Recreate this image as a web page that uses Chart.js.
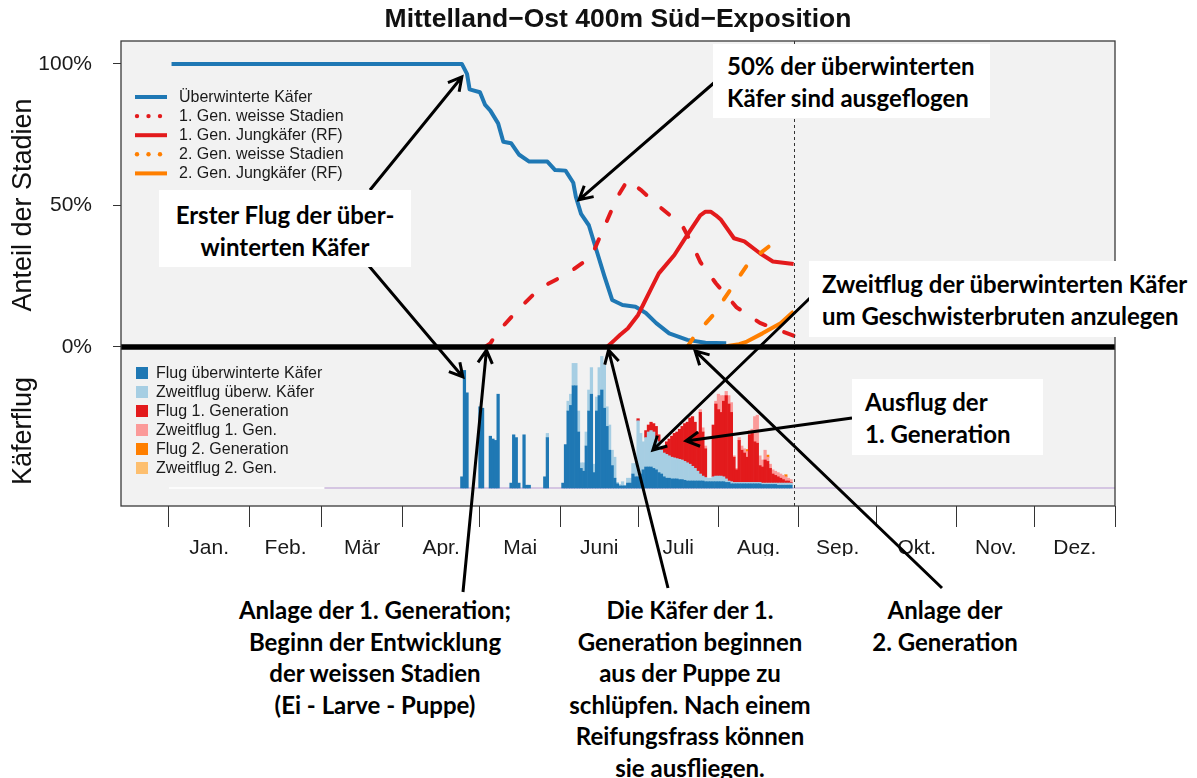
<!DOCTYPE html>
<html>
<head>
<meta charset="utf-8">
<script src="https://cdn.jsdelivr.net/npm/chart.js@4.4.0/dist/chart.umd.min.js"></script>
<style>
  html, body { margin: 0; padding: 0; background: #fff; }
  #wrap { position: relative; width: 1197px; height: 778px; overflow: hidden; }
  #chart { position: absolute; left: 0; top: 0; }
  .note {
    position: absolute; box-sizing: border-box; background: #fff; color: #000;
    font-family: Lato, "Open Sans", sans-serif; font-weight: 700; font-size: 24px;
    line-height: 31.5px; white-space: nowrap;
  }
</style>
</head>
<body>
<div id="wrap">
  <canvas id="chart" width="1197" height="778"></canvas>
</div>
<script>
const chartTitle = 'Mittelland−Ost 400m Süd−Exposition';
const monthStarts = [0, 31, 59, 90, 120, 151, 181, 212, 243, 273, 304, 334, 365];
const monthLabels = ['Jan.', 'Feb.', 'Mär', 'Apr.', 'Mai', 'Juni', 'Juli', 'Aug.', 'Sep.', 'Okt.', 'Nov.', 'Dez.'];
const percentTicks = [0, 50, 100];
const cutoffDay = 241;      // dotted line, last simulated day
const baseSplitDay = 60;    // baseline is white before, lilac after

// upper panel, share of stages in % (day of year -> value)
const uwDays = [1, 113, 115, 116, 120, 122, 124, 127, 129, 132, 135, 139, 146, 149, 153, 156, 157, 159, 162, 165, 168, 171, 175, 180, 184, 188, 193, 200, 207, 215];
const uwValues = [100, 100, 96.5, 91, 90, 85.5, 83.5, 79, 72.5, 72, 68, 65.5, 65.5, 62.5, 62.3, 58, 53, 47, 43, 34, 25, 16.6, 14.8, 14.2, 12, 8.4, 4.8, 2.5, 1.5, 1.3];
const weiss1Days = [122, 124, 127, 134, 143, 154, 163, 168, 173, 177, 182, 190, 198, 202, 205, 211, 219, 228, 235, 241];
const weiss1Values = [0, 1.3, 5.4, 12.5, 20.7, 26, 32, 42.5, 53, 59, 55.5, 49, 43, 36, 30, 22.5, 14, 8.5, 6, 4];
const jung1Days = [169, 172, 174, 177, 181, 183, 186, 189, 195, 200, 205, 207, 209, 211, 213, 218, 222, 228, 233, 241];
const jung1Values = [0, 2.5, 4.2, 6.5, 11.3, 15, 20.5, 26, 32.5, 39.6, 46.5, 47.8, 47.8, 46.5, 44.9, 38.4, 37.3, 33.1, 30.2, 29.3];
const weiss2Days = [200, 203, 210, 217, 224, 234, 237];
const weiss2Values = [0, 4.2, 11.3, 20.7, 30.2, 37.3, 39];
const jung2Days = [213, 220, 223, 229, 236, 241];
const jung2Values = [0, 1, 1.9, 4.8, 8.4, 12.5];

// lower panel, daily flight (relative units), each series starts at its own day
const flugUwStart = 113;
const flugUw = [
  8, 84, 68, 0, 0, 0, 0, 58, 57, 0,
  0, 37, 35, 34, 67, 0, 0, 0, 0, 3.5,
  38, 36, 3.5, 0, 38, 2, 2, 0, 0, 0,
  0, 0, 8, 36, 0, 0, 0, 0, 0, 3.5,
  31, 55, 59, 73, 73, 40, 14, 12, 30, 55,
  67, 11, 55, 66, 70, 57, 44, 27, 16, 7,
  3, 1.5, 1.5, 1.5, 3.5, 3.5, 10, 8, 8, 10,
  13, 15, 15, 15, 14, 13, 11, 10, 8, 7,
  7, 6.5, 6.5, 6.5, 6, 6, 5.5, 5, 5, 5,
  5, 5, 5, 5, 4.5, 4.5, 4.5, 4.5, 4.5, 4.5,
  4.5, 4.5, 4, 4, 3, 3, 3, 3, 3, 3,
  3, 3, 3, 3, 3, 3, 2.5, 2.5, 2.5, 2.5,
  2.5, 2.5, 2, 2, 2, 2, 2, 2
];
const zweitUwStart = 146;
const zweitUw = [
  3, 0, 0, 0, 0, 0, 0,
  0, 7, 8, 16, 16, 15, 4, 6, 10, 15,
  19, 6, 10, 20, 24, 31, 14, 18, 11, 15,
  1, 1, 3, 0.5, 3.5, 3.5, 7.5, 9.5, 40, 29,
  20, 21, 25, 26, 26, 23, 22, 17, 17, 17,
  16, 15.5, 15, 14.5, 14.5, 14, 13.5, 13, 12, 10.5,
  9, 7, 5, 3.5, 3, 2.5, 2.5, 3.5, 4, 4,
  4, 3.5, 2.5, 1, 1.5, 1, 1, 1, 1, 1,
  1, 1, 1, 1, 1, 1, 1, 1, 1, 1,
  1, 1, 1.5, 1.5, 1.5, 1.5, 1.5, 1.5
];
const flug1Start = 181;
const flug1 = [
  1.5, 0,
  0, 5, 5, 6, 6, 8, 5, 2, 4, 9,
  12, 15, 17.5, 19, 21.5, 24, 27, 29, 33, 35.5,
  33, 28, 44, 31.5, 20.5, 0, 0, 37, 51.5, 47.5,
  45.5, 54, 59.5, 55, 49.5, 18, 9, 30, 23, 21,
  18, 34, 35, 29, 28, 12, 11.5, 16.5, 15.5, 10.5,
  6.5, 5.5, 4.5, 3.5, 2.5, 1.5, 1.5, 0.5
];
const zweit1Start = 205;
const zweit1 = [
  2, 3, 2, 0, 0, 0, 2, 11,
  12, 4, 3, 6, 7, 1, 1, 2, 3, 3,
  4, 3, 3, 18, 20, 7, 5, 7, 3, 3,
  3, 3, 3, 3, 3, 3, 2, 2
];
const flug2Start = 223;
const flug2 = [1.5, 0, 0, 0, 0, 0, 0, 0, 1.5, 0, 0, 0, 0, 0, 0, 1.5];
const zweit2Start = 223;
const zweit2 = [];

const blue = '#1f78b4', red = '#e31a1c', orange = '#ff7f00';

function curve(days, values) {
  return days.map((d, i) => ({ x: d, y: values[i] }));
}
function daily(start, values) {
  const pts = [];
  values.forEach((v, i) => { if (v > 0) pts.push({ x: start + i, y: v }); });
  return pts;
}

const lineBase = { type: 'line', yAxisID: 'y', pointRadius: 0, borderWidth: 4, tension: 0, fill: false, borderJoinStyle: 'round' };
const barBase = { type: 'bar', yAxisID: 'yb', order: 10, borderWidth: 0, barPercentage: 1, categoryPercentage: 1 };

// annotation boxes (pixels) and arrows: tail in pixels, tip in data units
const notes = [
  { lines: ['50% der überwinterten', 'Käfer sind ausgeflogen'], left: 713, top: 44, width: 277, height: 74, pad: '6px 0 0 14px', align: 'left' },
  { lines: ['Erster Flug der über-', 'winterten Käfer'], left: 159, top: 190, width: 252, height: 77, pad: '9px 0 0 0', align: 'center' },
  { lines: ['Zweitflug der überwinterten Käfer', 'um Geschwisterbruten anzulegen'], left: 809, top: 261, width: 388, height: 76, pad: '7px 0 0 13px', align: 'left' },
  { lines: ['Ausflug der', '1. Generation'], left: 852, top: 379, width: 191, height: 76, pad: '7px 0 0 13px', align: 'left' },
  { lines: ['Anlage der 1. Generation;', 'Beginn der Entwicklung', 'der weissen Stadien', '(Ei - Larve - Puppe)'], left: 215, top: 594, width: 320, height: 130, pad: '0', align: 'center' },
  { lines: ['Die Käfer der 1.', 'Generation beginnen', 'aus der Puppe zu', 'schlüpfen. Nach einem', 'Reifungsfrass können', 'sie ausfliegen.'], left: 530, top: 594, width: 320, height: 190, pad: '0', align: 'center' },
  { lines: ['Anlage der', '2. Generation'], left: 845, top: 594, width: 200, height: 66, pad: '0', align: 'center' }
];
const arrows = [
  { from: [370, 190], to: [113, 95.4] },
  { from: [369, 266], to: [113.4, -10.6] },
  { from: [715, 82], to: [158.2, 52] },
  { from: [463, 592], to: [122.5, -1.1] },
  { from: [668, 588], to: [169.6, -1.1] },
  { from: [942, 588], to: [203, -1.4] },
  { from: [810, 298], to: [186.7, -36.4] },
  { from: [852, 418], to: [199.5, -33.2] }
];

const wrap = document.getElementById('wrap');
notes.forEach(n => {
  const d = document.createElement('div');
  d.className = 'note';
  Object.assign(d.style, { left: n.left + 'px', top: n.top + 'px', width: n.width + 'px', height: n.height + 'px', padding: n.pad, textAlign: n.align });
  n.lines.forEach((t, i) => {
    if (i) d.appendChild(document.createElement('br'));
    d.appendChild(document.createTextNode(t));
  });
  wrap.appendChild(d);
});

function seg(ctx, x1, y1, x2, y2) {
  ctx.beginPath(); ctx.moveTo(x1, y1); ctx.lineTo(x2, y2); ctx.stroke();
}
function arrow(ctx, x1, y1, x2, y2) {
  const a = Math.atan2(y2 - y1, x2 - x1), h = 15, w = 0.5;
  ctx.beginPath();
  ctx.moveTo(x1, y1); ctx.lineTo(x2, y2);
  ctx.moveTo(x2 - h * Math.cos(a - w), y2 - h * Math.sin(a - w));
  ctx.lineTo(x2, y2);
  ctx.lineTo(x2 - h * Math.cos(a + w), y2 - h * Math.sin(a + w));
  ctx.stroke();
}

const FONT = '"Liberation Sans", Arial, sans-serif';
Chart.defaults.font.family = FONT;

const frame = {
  id: 'frame',
  beforeDraw(chart) {
    const { ctx, chartArea: a } = chart;
    ctx.save();
    ctx.fillStyle = '#f2f2f2';
    ctx.fillRect(a.left, a.top, a.right - a.left, a.bottom - a.top);
    ctx.restore();
  },
  beforeDatasetsDraw(chart) {
    const { ctx, scales: { x, yb } } = chart;
    const y0 = yb.getPixelForValue(0);
    ctx.save();
    ctx.lineWidth = 1.5;
    ctx.strokeStyle = '#ffffff';
    seg(ctx, x.getPixelForValue(0), y0, x.getPixelForValue(baseSplitDay), y0);
    ctx.strokeStyle = '#cbb7dd';
    seg(ctx, x.getPixelForValue(baseSplitDay), y0, x.getPixelForValue(365), y0);
    ctx.restore();
  },
  afterDatasetsDraw(chart) {
    const { ctx, chartArea: a, scales: { x, y } } = chart;
    ctx.save();
    // cutoff day
    ctx.strokeStyle = '#333';
    ctx.lineWidth = 1;
    ctx.setLineDash([3, 3]);
    const xc = Math.round(x.getPixelForValue(cutoffDay)) + 0.5;
    seg(ctx, xc, a.top, xc, a.bottom);
    ctx.setLineDash([]);
    // 0 % line
    ctx.strokeStyle = '#000';
    ctx.lineWidth = 5.5;
    const yz = y.getPixelForValue(0);
    seg(ctx, a.left, yz, a.right, yz);
    // plot box
    ctx.strokeStyle = '#3a3a3a';
    ctx.lineWidth = 1.3;
    ctx.strokeRect(a.left, a.top, a.right - a.left, a.bottom - a.top);
    ctx.restore();
  },
  afterDraw(chart) {
    const { ctx, chartArea: a, scales: { x, y } } = chart;
    const sets = chart.data.datasets;
    ctx.save();
    ctx.fillStyle = '#111';
    ctx.textBaseline = 'middle';

    // title
    ctx.font = 'bold 26.5px ' + FONT;
    ctx.textAlign = 'center';
    ctx.fillText(chartTitle, (a.left + a.right) / 2, 20);

    // axis titles
    ctx.font = '27px ' + FONT;
    [['Anteil der Stadien', 205], ['Käferflug', 431]].forEach(([t, cy]) => {
      ctx.save();
      ctx.translate(24, cy);
      ctx.rotate(-Math.PI / 2);
      ctx.fillText(t, 0, 0);
      ctx.restore();
    });

    // upper legend
    ctx.font = '16px ' + FONT;
    ctx.textAlign = 'left';
    sets.filter(d => d.type === 'line').forEach((d, i) => {
      const yy = 97 + i * 19.1;
      ctx.strokeStyle = d.borderColor;
      ctx.fillStyle = d.borderColor;
      if (d.borderDash) {
        [137, 148.5, 160].forEach(px => { ctx.beginPath(); ctx.arc(px, yy, 2.2, 0, Math.PI * 2); ctx.fill(); });
      } else {
        ctx.lineWidth = 4;
        seg(ctx, 135, yy, 167, yy);
      }
      ctx.fillStyle = '#1a1a1a';
      ctx.fillText(d.label, 179, yy + 0.5);
    });

    // lower legend
    sets.filter(d => d.type === 'bar').forEach((d, i) => {
      const yy = 373 + i * 19;
      ctx.fillStyle = d.backgroundColor;
      ctx.fillRect(136, yy - 6, 12, 12);
      ctx.fillStyle = '#1a1a1a';
      ctx.fillText(d.label, 156, yy + 0.5);
    });

    // arrows
    ctx.strokeStyle = '#000';
    ctx.lineWidth = 3;
    ctx.lineCap = 'butt';
    ctx.lineJoin = 'miter';
    arrows.forEach(r => {
      arrow(ctx, r.from[0], r.from[1], x.getPixelForValue(r.to[0]), y.getPixelForValue(r.to[1]));
    });
    ctx.restore();
  }
};

function monthLabelFor(value) {
  for (let i = 0; i < monthLabels.length; i++) {
    if ((monthStarts[i] + monthStarts[i + 1]) / 2 === value) return monthLabels[i];
  }
  return '';
}

new Chart(document.getElementById('chart'), {
  type: 'bar',
  data: {
    datasets: [
      { ...lineBase, label: 'Überwinterte Käfer', data: curve(uwDays, uwValues), borderColor: blue, order: 6 },
      { ...lineBase, label: '1. Gen. weisse Stadien', data: curve(weiss1Days, weiss1Values), borderColor: red, borderDash: [10, 20], borderCapStyle: 'round', order: 5 },
      { ...lineBase, label: '1. Gen. Jungkäfer (RF)', data: curve(jung1Days, jung1Values), borderColor: red, order: 4 },
      { ...lineBase, label: '2. Gen. weisse Stadien', data: curve(weiss2Days, weiss2Values), borderColor: orange, borderDash: [10, 20], borderCapStyle: 'round', order: 3 },
      { ...lineBase, label: '2. Gen. Jungkäfer (RF)', data: curve(jung2Days, jung2Values), borderColor: orange, order: 2 },
      { ...barBase, label: 'Flug überwinterte Käfer', data: daily(flugUwStart, flugUw), backgroundColor: '#1f78b4' },
      { ...barBase, label: 'Zweitflug überw. Käfer', data: daily(zweitUwStart, zweitUw), backgroundColor: '#a6cee3' },
      { ...barBase, label: 'Flug 1. Generation', data: daily(flug1Start, flug1), backgroundColor: '#e31a1c' },
      { ...barBase, label: 'Zweitflug 1. Gen.', data: daily(zweit1Start, zweit1), backgroundColor: '#fb9a99' },
      { ...barBase, label: 'Flug 2. Generation', data: daily(flug2Start, flug2), backgroundColor: '#ff7f00' },
      { ...barBase, label: 'Zweitflug 2. Gen.', data: daily(zweit2Start, zweit2), backgroundColor: '#fdbf6f' }
    ]
  },
  options: {
    responsive: false,
    animation: false,
    events: [],
    layout: { padding: { left: 0, right: 82, top: 41, bottom: 222 } },
    plugins: { legend: { display: false }, tooltip: { enabled: false } },
    scales: {
      x: {
        type: 'linear', min: -18.5, max: 365, stacked: true, offset: false,
        afterBuildTicks: s => {
          const t = monthStarts.map(v => ({ value: v }));
          monthLabels.forEach((m, i) => t.push({ value: (monthStarts[i] + monthStarts[i + 1]) / 2 }));
          t.sort((p, q) => p.value - q.value);
          s.ticks = t;
        },
        afterFit: s => { s.height = 50; },
        ticks: { autoSkip: false, maxRotation: 0, padding: 9, color: '#1a1a1a', font: { size: 21 }, callback: v => monthLabelFor(v) },
        grid: {
          offset: false, drawOnChartArea: false, tickLength: 21, tickWidth: 1,
          tickColor: c => (c.tick && monthStarts.includes(c.tick.value)) ? '#333' : 'rgba(0,0,0,0)'
        },
        border: { display: false }
      },
      y: {
        type: 'linear', min: -56.2, max: 108.1,
        afterBuildTicks: s => { s.ticks = percentTicks.map(v => ({ value: v })); },
        afterFit: s => { s.width = 121; },
        ticks: { padding: 21, color: '#1a1a1a', font: { size: 21 }, callback: v => v + '%' },
        grid: { drawOnChartArea: false, tickLength: 8, tickColor: '#333' },
        border: { display: false }
      },
      yb: { type: 'linear', display: false, stacked: true, min: -12.86, max: 319.3 }
    }
  },
  plugins: [frame]
});
</script>
</body>
</html>
